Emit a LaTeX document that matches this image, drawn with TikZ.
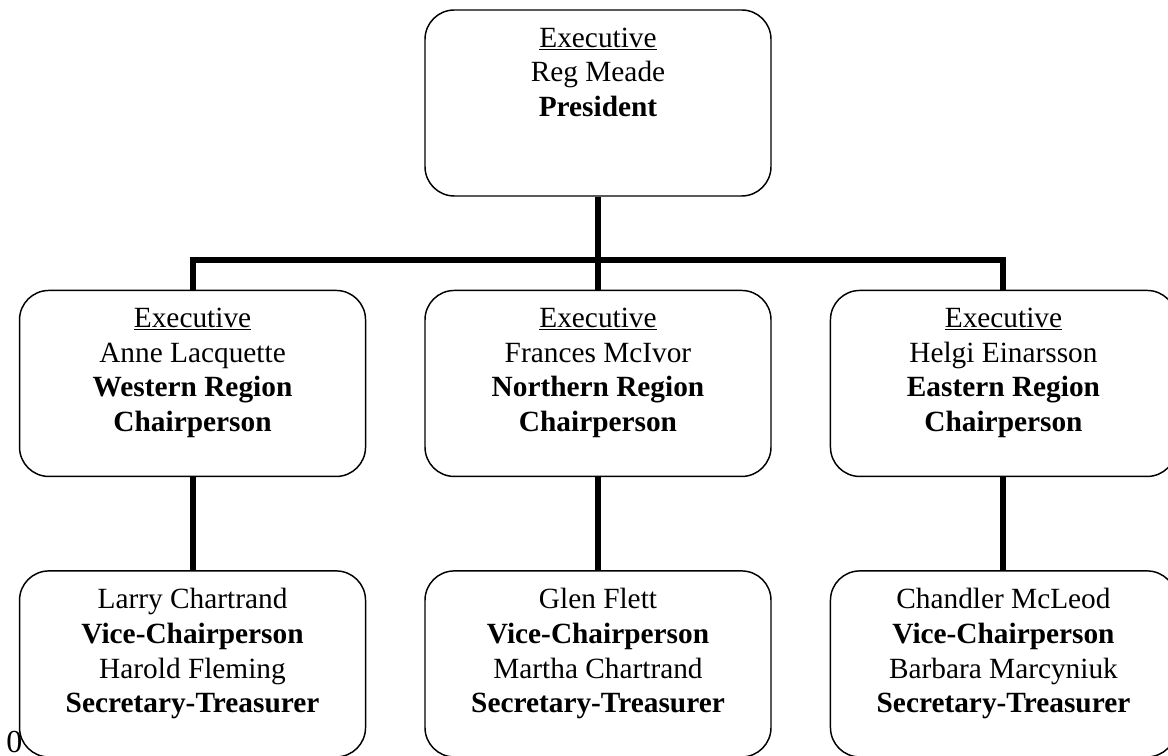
\documentclass[tikz,border=0pt]{standalone}
\usepackage{fontspec}
\setmainfont{Liberation Serif}
\usetikzlibrary{positioning}

\newcommand{\cardtext}[1]{\parbox[t][113pt][t]{235pt}{\centering\fontsize{22}{26}\selectfont #1}}

\begin{document}
\begin{tikzpicture}[
    node distance=69.75pt and 43.5pt,
    card/.style={rectangle, rounded corners=22pt, draw, line width=1.1pt, minimum width=259.5pt, minimum height=139.5pt, inner xsep=12pt, inner ysep=13pt},
    link/.style={line width=4.5pt}
]
    \useasboundingbox (0,0) rectangle (876pt,567pt);
    \node[card] (pres) at (448.5pt,489.75pt) {\cardtext{\underline{Executive}\\Reg Meade\\\textbf{President}}};
    \node[card, below=of pres] (north) {\cardtext{\underline{Executive}\\Frances McIvor\\\textbf{Northern Region}\\\textbf{Chairperson}}};
    \node[card, left=of north] (west) {\cardtext{\underline{Executive}\\Anne Lacquette\\\textbf{Western Region}\\\textbf{Chairperson}}};
    \node[card, right=of north] (east) {\cardtext{\underline{Executive}\\Helgi Einarsson\\\textbf{Eastern Region}\\\textbf{Chairperson}}};
    \node[card, below=of west] (westvc) {\cardtext{Larry Chartrand\\\textbf{Vice-Chairperson}\\Harold Fleming\\\textbf{Secretary-Treasurer}}};
    \node[card, below=of north] (northvc) {\cardtext{Glen Flett\\\textbf{Vice-Chairperson}\\Martha Chartrand\\\textbf{Secretary-Treasurer}}};
    \node[card, below=of east] (eastvc) {\cardtext{Chandler McLeod\\\textbf{Vice-Chairperson}\\Barbara Marcyniuk\\\textbf{Secretary-Treasurer}}};
    \node[anchor=base west, inner sep=0pt, font=\fontsize{24}{24}\selectfont] (zero) at (4.5pt,2.5pt) {0};

    \draw[link] (pres) -- (north);
    \draw[link] (west.north) -- ++(0,22.5pt) -| (east.north);
    \draw[link] (west) -- (westvc);
    \draw[link] (north) -- (northvc);
    \draw[link] (east) -- (eastvc);
\end{tikzpicture}
\end{document}
